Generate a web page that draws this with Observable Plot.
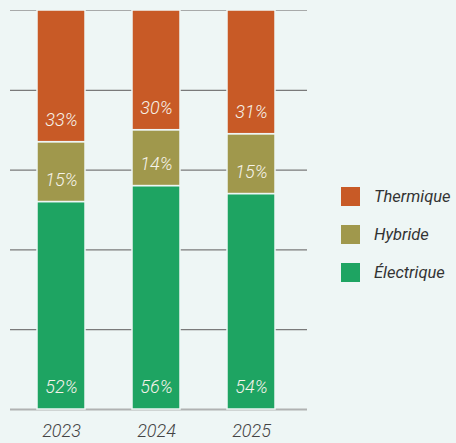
<!DOCTYPE html>
<html>
<head>
<meta charset="utf-8">
<script src="https://cdn.jsdelivr.net/npm/d3@7"></script>
<script src="https://cdn.jsdelivr.net/npm/@observablehq/plot@0.6"></script>
<style>
  html, body { margin: 0; padding: 0; background: #eef6f5; }
  #wrap { position: relative; width: 456px; height: 443px; background: #eef6f5; font-family: Roboto, "Open Sans", sans-serif; }
  #chart { position: absolute; left: 0; top: 0; }
  #legend { position: absolute; left: 341px; top: 187px; }
  .item { display: flex; align-items: center; height: 19px; margin-bottom: 19px; }
  .sw { width: 19px; height: 19px; margin-right: 14px; flex: none; }
  .lb { font-style: italic; font-size: 16.5px; color: #333; white-space: nowrap; }
</style>
</head>
<body>
<div id="wrap">
  <div id="chart"></div>
  <div id="legend"></div>
</div>
<script>
const years = ["2023", "2024", "2025"];
const types = ["Électrique", "Hybride", "Thermique"];
const electrique = [52, 56, 54];
const hybride = [15, 14, 15];
const thermique = [33, 30, 31];
const colors = ["#1ea462", "#a0984c", "#c85a26"];
const legendOrder = ["Thermique", "Hybride", "Électrique"];
const yTicks = [0, 20, 40, 60, 80, 100];

const series = [electrique, hybride, thermique];
const data = [];
years.forEach((yr, i) => {
  types.forEach((t, j) => data.push({year: yr, type: t, value: series[j][i]}));
});

const chart = Plot.plot({
  width: 320,
  height: 443,
  marginTop: 10,
  marginBottom: 34,
  marginLeft: 10,
  marginRight: 13,
  style: {background: "transparent", fontFamily: "Roboto, 'Open Sans', sans-serif"},
  x: {domain: years, range: [12.5, 299], paddingInner: 0.5, paddingOuter: 0.25, label: null},
  y: {domain: [0, 100], axis: null},
  color: {domain: types, range: colors},
  marks: [
    Plot.ruleY(yTicks.filter(d => d > 0 && d < 100), {stroke: "#7a7a7a", strokeWidth: 1.2}),
    Plot.ruleY([100], {stroke: "#a8aaaa", strokeWidth: 1.2}),
    Plot.ruleY([0], {stroke: "#b0b2b2", strokeWidth: 2}),
    Plot.barY(data, {x: "year", y: "value", fill: "type", order: types, stroke: "#eef6f5", strokeWidth: 1.5}),
    Plot.text(data, Plot.stackY1({x: "year", y: "value", z: "type", order: types, text: d => d.value + "%", dy: -22, fill: "#f6f3ea", fontSize: 18, fontStyle: "italic", fontWeight: 300})),
    Plot.axisX({tickSize: 0, tickPadding: 15, fontSize: 18, fontStyle: "italic", fontWeight: 300, fill: "#444", color: "#444"})
  ]
});
document.getElementById("chart").appendChild(chart);

const leg = document.getElementById("legend");
legendOrder.forEach(name => {
  const c = colors[types.indexOf(name)];
  const it = document.createElement("div");
  it.className = "item";
  it.innerHTML = `<div class="sw" style="background:${c}"></div><div class="lb">${name}</div>`;
  leg.appendChild(it);
});
</script>
</body>
</html>
